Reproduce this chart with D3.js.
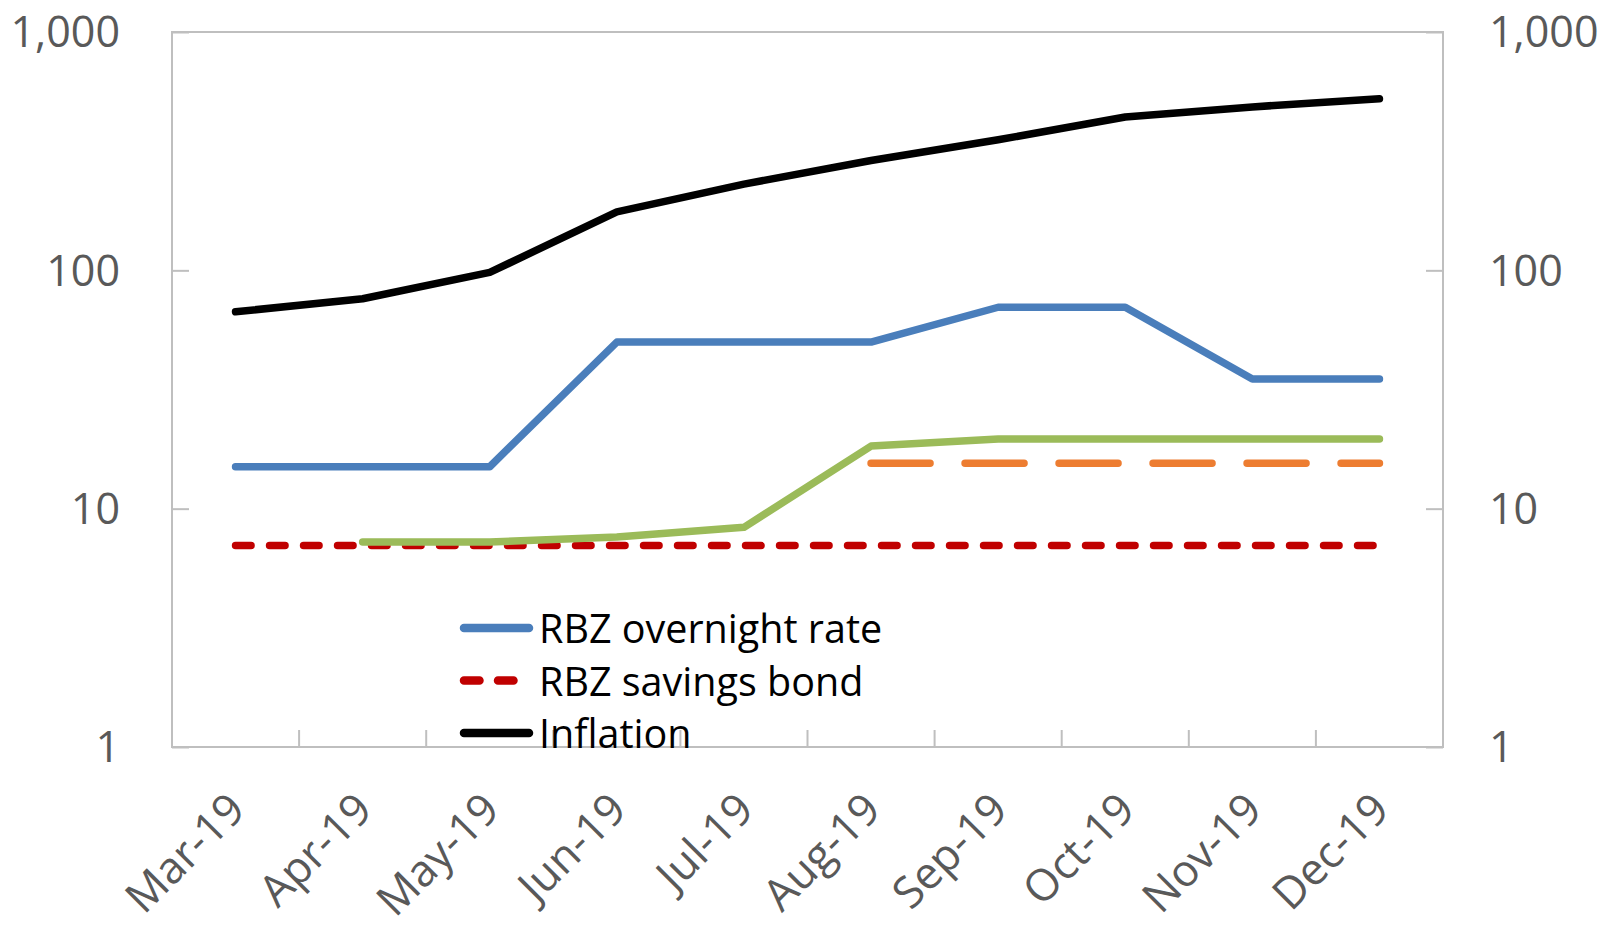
<!DOCTYPE html>
<html>
<head>
    <meta charset="utf-8">
    <title>RBZ rates vs inflation</title>
    <script src="https://d3js.org/d3.v7.min.js"></script>
    <style>
        body { margin: 0; background: #fff; }
        svg text { font-family: "Open Sans", "Noto Sans", sans-serif; }
    </style>
</head>
<body>
    <script>
        const months = ["Mar-19", "Apr-19", "May-19", "Jun-19", "Jul-19", "Aug-19", "Sep-19", "Oct-19", "Nov-19", "Dec-19"];
        const overnightRate = [15, 15, 15, 50, 50, 50, 70, 70, 35, 35];
        const savingsBond = [7, 7, 7, 7, 7, 7, 7, 7, 7, 7];
        const inflation = [67, 76, 98, 176, 230, 289, 353, 440, 485, 525];
        const greenSeries = [null, 7.25, 7.25, 7.6, 8.35, 18.3, 19.6, 19.6, 19.6, 19.6];
        const orangeSeries = [null, null, null, null, null, 15.5, 15.5, 15.5, 15.5, 15.5];
        const yTicks = [1, 10, 100, 1000];

        const width = 1601, height = 928;
        const margin = { top: 32, right: 158, bottom: 181, left: 172 };

        const svg = d3.select("body").append("svg")
            .attr("width", width)
            .attr("height", height);

        const x = d3.scaleBand()
            .domain(months)
            .range([margin.left, width - margin.right]);

        const y = d3.scaleLog()
            .domain([1, 1000])
            .range([height - margin.bottom, margin.top]);

        const axisColor = "#bfbfbf";
        const labelColor = "#595959";

        // plot frame
        svg.append("rect")
            .attr("x", margin.left)
            .attr("y", margin.top)
            .attr("width", width - margin.left - margin.right)
            .attr("height", height - margin.top - margin.bottom)
            .attr("fill", "none")
            .attr("stroke", axisColor)
            .attr("stroke-width", 2);

        const fmt = d3.format(",");

        // left axis
        const yLeft = svg.append("g")
            .attr("transform", `translate(${margin.left},0)`)
            .call(d3.axisRight(y).tickValues(yTicks).tickSize(17).tickFormat(""));
        yLeft.select(".domain").remove();
        yLeft.selectAll("line").attr("stroke", axisColor).attr("stroke-width", 2);

        svg.append("g").selectAll("text")
            .data(yTicks)
            .join("text")
            .attr("x", 120)
            .attr("y", d => y(d))
            .attr("dy", "0.36em")
            .attr("text-anchor", "end")
            .attr("font-size", 43)
            .attr("fill", labelColor)
            .text(d => fmt(d));

        // right axis
        const yRight = svg.append("g")
            .attr("transform", `translate(${width - margin.right},0)`)
            .call(d3.axisLeft(y).tickValues(yTicks).tickSize(17).tickFormat(""));
        yRight.select(".domain").remove();
        yRight.selectAll("line").attr("stroke", axisColor).attr("stroke-width", 2);

        svg.append("g").selectAll("text")
            .data(yTicks)
            .join("text")
            .attr("x", 1489)
            .attr("y", d => y(d))
            .attr("dy", "0.36em")
            .attr("text-anchor", "start")
            .attr("font-size", 43)
            .attr("fill", labelColor)
            .text(d => fmt(d));

        // x axis: ticks between categories, pointing up
        const xBottom = height - margin.bottom;
        svg.append("g").selectAll("line")
            .data(months.slice(1))
            .join("line")
            .attr("x1", d => x(d))
            .attr("x2", d => x(d))
            .attr("y1", xBottom)
            .attr("y2", xBottom - 17)
            .attr("stroke", axisColor)
            .attr("stroke-width", 2);

        svg.append("g").selectAll("text")
            .data(months)
            .join("text")
            .attr("transform", d => `translate(${x(d) + x.bandwidth() / 2 + 12},${xBottom + 65}) rotate(-45)`)
            .attr("text-anchor", "end")
            .attr("font-size", 44)
            .attr("fill", labelColor)
            .text(d => d);

        const cx = d => x(d) + x.bandwidth() / 2;

        function drawLine(values, color, dash) {
            const line = d3.line()
                .defined(d => d[1] != null)
                .x(d => cx(d[0]))
                .y(d => y(d[1]));
            svg.append("path")
                .datum(months.map((m, i) => [m, values[i]]))
                .attr("d", line)
                .attr("fill", "none")
                .attr("stroke", color)
                .attr("stroke-width", 7.5)
                .attr("stroke-linecap", "round")
                .attr("stroke-linejoin", "round")
                .attr("stroke-dasharray", dash || null);
        }

        drawLine(savingsBond, "#c00000", "15.5,18.5");
        drawLine(orangeSeries, "#ed7d31", "59,35");
        drawLine(greenSeries, "#9bbb59");
        drawLine(overnightRate, "#4a7ebb");
        drawLine(inflation, "#000000");

        // legend
        const legendItems = [
            { name: "RBZ overnight rate", color: "#4a7ebb", dash: null },
            { name: "RBZ savings bond", color: "#c00000", dash: "15.5,18.5" },
            { name: "Inflation", color: "#000000", dash: null }
        ];

        const legend = svg.append("g")
            .attr("transform", "translate(464,628)");

        const item = legend.selectAll("g")
            .data(legendItems)
            .join("g")
            .attr("transform", (d, i) => `translate(0,${i * 52.5})`);

        item.append("line")
            .attr("x1", 0)
            .attr("x2", 65)
            .attr("stroke", d => d.color)
            .attr("stroke-width", 8.5)
            .attr("stroke-linecap", "round")
            .attr("stroke-dasharray", d => d.dash);

        item.append("text")
            .attr("x", 75)
            .attr("y", 15)
            .attr("font-size", 39.5)
            .attr("fill", "#000")
            .text(d => d.name);
    </script>
</body>
</html>
